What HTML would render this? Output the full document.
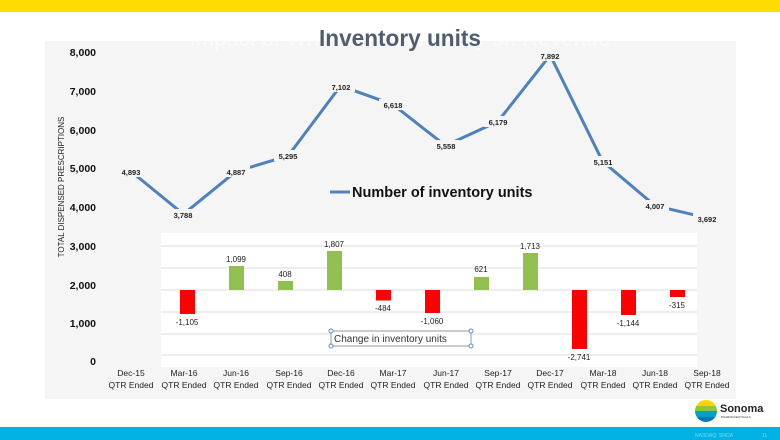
<!DOCTYPE html>
<html><head><meta charset="utf-8"><style>
html,body{margin:0;padding:0;background:#fff;}
svg{display:block;}
text{font-family:"Liberation Sans",sans-serif;}
</style></head><body>
<svg width="780" height="440" viewBox="0 0 780 440" xmlns="http://www.w3.org/2000/svg">
<rect x="0" y="0" width="780" height="12" fill="#ffdd00"/>
<rect x="45" y="41" width="691" height="358" fill="#f5f5f5"/>
<text x="400" y="46" font-size="22" fill="#ffffff" text-anchor="middle" opacity="0.6">Impact of Wholesale Inventory on Revenue</text>
<text x="400" y="46" font-size="23" font-weight="bold" fill="#505d70" text-anchor="middle" textLength="162" lengthAdjust="spacingAndGlyphs">Inventory units</text>
<!-- inner box -->
<rect x="161" y="233" width="536" height="134" fill="#ffffff"/>
<g stroke="#dcdcdc" stroke-width="1">
<line x1="161" y1="246" x2="697" y2="246"/><line x1="161" y1="268" x2="697" y2="268"/>
<line x1="161" y1="290" x2="697" y2="290"/><line x1="161" y1="312" x2="697" y2="312"/>
<line x1="161" y1="334" x2="697" y2="334"/><line x1="161" y1="355" x2="697" y2="355"/>
</g>
<!-- y axis labels -->
<g font-size="10.5" font-weight="bold" fill="#111" text-anchor="end">
<text x="96" y="56">8,000</text><text x="96" y="95">7,000</text><text x="96" y="134">6,000</text>
<text x="96" y="172">5,000</text><text x="96" y="211">4,000</text><text x="96" y="250">3,000</text>
<text x="96" y="289">2,000</text><text x="96" y="327">1,000</text><text x="96" y="365">0</text>
</g>
<text transform="translate(64,187) rotate(-90)" font-size="8" fill="#222" text-anchor="middle">TOTAL DISPENSED PRESCRIPTIONS</text>
<!-- bars -->
<g fill="#ff0000">
<rect x="180" y="290" width="15" height="24"/>
<rect x="376" y="290" width="15" height="10.5"/>
<rect x="425" y="290" width="15" height="23"/>
<rect x="572" y="290" width="15" height="59"/>
<rect x="621" y="290" width="15" height="25"/>
<rect x="670" y="290" width="15" height="7"/>
</g>
<g fill="#92c050">
<rect x="229" y="266" width="15" height="24"/>
<rect x="278" y="281" width="15" height="9"/>
<rect x="327" y="251" width="15" height="39"/>
<rect x="474" y="277" width="15" height="13"/>
<rect x="523" y="253" width="15" height="37"/>
</g>
<g font-size="8" fill="#222" text-anchor="middle">
<text x="187" y="325">-1,105</text><text x="236" y="262">1,099</text><text x="285" y="277">408</text>
<text x="334" y="247">1,807</text><text x="383" y="311">-484</text><text x="432" y="324">-1,060</text>
<text x="481" y="272">621</text><text x="530" y="249">1,713</text><text x="579" y="360">-2,741</text>
<text x="628" y="326">-1,144</text><text x="677" y="308">-315</text>
</g>
<rect x="331" y="331" width="140" height="15" fill="#fff" stroke="#999" stroke-width="1"/>
<text x="334" y="342" font-size="10" fill="#333">Change in inventory units</text>
<g fill="#fff" stroke="#5b8fd0" stroke-width="1"><circle cx="331" cy="331" r="2"/><circle cx="331" cy="346" r="2"/><circle cx="471" cy="331" r="2"/><circle cx="471" cy="346" r="2"/></g>
<!-- line -->
<polyline fill="none" stroke="#4f81bd" stroke-width="3" stroke-linejoin="round" points="131,171.4 183.4,214.2 235.8,171.6 288.2,155.8 340.6,85.8 393,104.6 445.4,145.6 497.8,121.6 550.2,55.2 602.6,161.4 655,205.7 707.4,217.9"/>
<g font-size="7.5" font-weight="bold" fill="#222" text-anchor="middle">
<g fill="#f5f5f5">
<rect x="117" y="166" width="28" height="11"/><rect x="169" y="209" width="28" height="11"/>
<rect x="222" y="166" width="28" height="11"/><rect x="274" y="150" width="28" height="11"/>
<rect x="327" y="81" width="28" height="11"/><rect x="379" y="99" width="28" height="11"/>
<rect x="432" y="140" width="28" height="11"/><rect x="484" y="116" width="28" height="11"/>
<rect x="536" y="50" width="28" height="11"/><rect x="589" y="156" width="28" height="11"/>
<rect x="641" y="200" width="28" height="11"/><rect x="693" y="212" width="28" height="11"/>
</g>
<text x="131" y="175">4,893</text><text x="183" y="218">3,788</text><text x="236" y="175">4,887</text>
<text x="288" y="159">5,295</text><text x="341" y="90">7,102</text><text x="393" y="108">6,618</text>
<text x="446" y="149">5,558</text><text x="498" y="125">6,179</text><text x="550" y="59">7,892</text>
<text x="603" y="165">5,151</text><text x="655" y="209">4,007</text><text x="707" y="222">3,692</text>
</g>
<line x1="330" y1="192" x2="350" y2="192" stroke="#4f81bd" stroke-width="3"/>
<text x="352" y="197" font-size="14.5" font-weight="bold" fill="#111">Number of inventory units</text>
<!-- x labels -->
<g font-size="8.5" fill="#222" text-anchor="middle">
<text x="131" y="376">Dec-15</text><text x="184" y="376">Mar-16</text><text x="236" y="376">Jun-16</text>
<text x="289" y="376">Sep-16</text><text x="341" y="376">Dec-16</text><text x="393" y="376">Mar-17</text>
<text x="446" y="376">Jun-17</text><text x="498" y="376">Sep-17</text><text x="550" y="376">Dec-17</text>
<text x="603" y="376">Mar-18</text><text x="655" y="376">Jun-18</text><text x="707" y="376">Sep-18</text>
<g>
<text x="131" y="388">QTR Ended</text><text x="184" y="388">QTR Ended</text><text x="236" y="388">QTR Ended</text>
<text x="289" y="388">QTR Ended</text><text x="341" y="388">QTR Ended</text><text x="393" y="388">QTR Ended</text>
<text x="446" y="388">QTR Ended</text><text x="498" y="388">QTR Ended</text><text x="550" y="388">QTR Ended</text>
<text x="603" y="388">QTR Ended</text><text x="655" y="388">QTR Ended</text><text x="707" y="388">QTR Ended</text>
</g>
</g>
<!-- logo -->
<clipPath id="lc"><circle cx="706" cy="411" r="11"/></clipPath>
<g clip-path="url(#lc)">
<rect x="694" y="399" width="24" height="7" fill="#ffd200"/>
<rect x="694" y="406" width="24" height="5" fill="#8cc63f"/>
<rect x="694" y="411" width="24" height="6" fill="#00a0c6"/>
<rect x="694" y="417" width="24" height="6" fill="#0077b5"/>
</g>
<text x="720" y="412" font-size="11" font-weight="bold" fill="#222">Sonoma</text>
<text x="721" y="418" font-size="3" fill="#333">PHARMACEUTICALS</text>
<rect x="0" y="427" width="780" height="13" fill="#00b2e3"/>
<text x="695" y="437" font-size="5" fill="#7fd4f0">NASDAQ: SNOA</text>
<text x="762" y="437" font-size="5" fill="#7fd4f0">11</text>
</svg>
</body></html>
